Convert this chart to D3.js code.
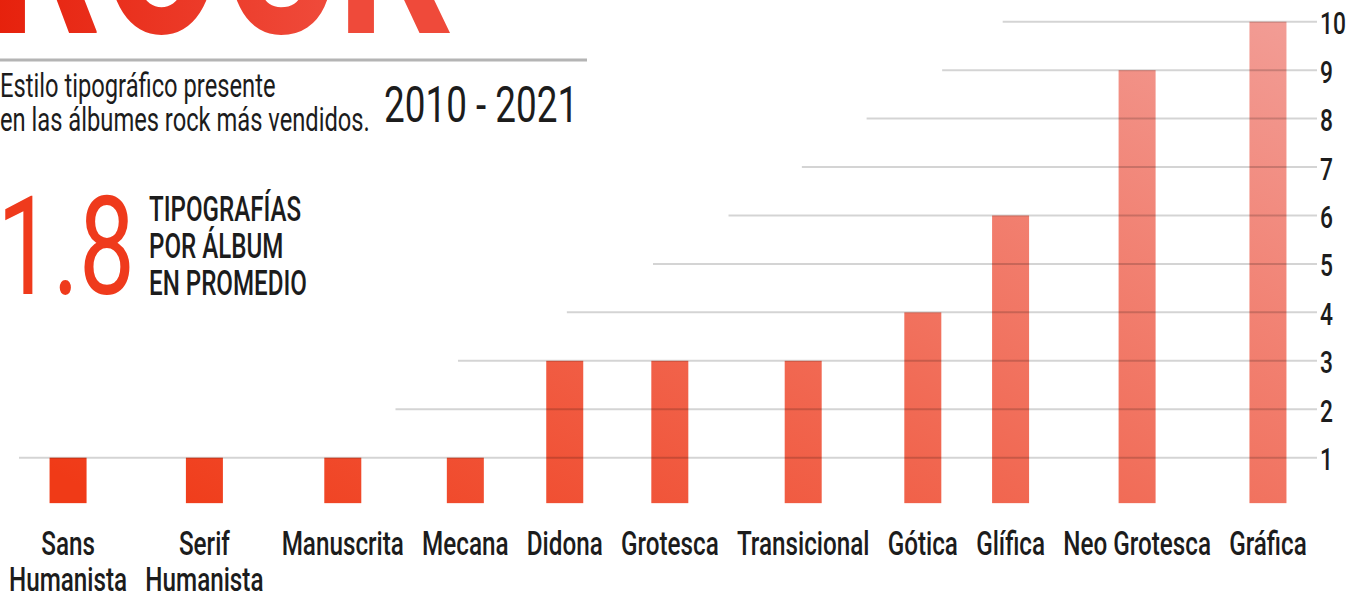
<!DOCTYPE html>
<html>
<head>
<meta charset="utf-8">
<script src="https://cdn.jsdelivr.net/npm/d3@7"></script>
<style>
  html, body { margin: 0; padding: 0; background: #fff; overflow: hidden; }
  svg { display: block; }
  text { font-family: Roboto, "Noto Sans", sans-serif; }
</style>
</head>
<body>
<svg id="chart" width="1364" height="596"></svg>
<script>
// ---- data ----
const categories = ["Sans Humanista", "Serif Humanista", "Manuscrita", "Mecana", "Didona",
  "Grotesca", "Transicional", "Gótica", "Glífica", "Neo Grotesca", "Gráfica"];
const tickLabels = [["Sans", "Humanista"], ["Serif", "Humanista"], ["Manuscrita"], ["Mecana"],
  ["Didona"], ["Grotesca"], ["Transicional"], ["Gótica"], ["Glífica"], ["Neo Grotesca"], ["Gráfica"]];
const counts = [1, 1, 1, 1, 3, 3, 3, 4, 6, 9, 10];
const yTicks = [1, 2, 3, 4, 5, 6, 7, 8, 9, 10];
const title = "ROCK";
const subtitleLines = ["Estilo tipográfico presente", "en las álbumes rock más vendidos."];
const period = "2010 - 2021";
const average = "1.8";
const averageCaption = ["TIPOGRAFÍAS", "POR ÁLBUM", "EN PROMEDIO"];

// ---- layout / style ----
const SQUEEZE = 0.735;          // horizontal squeeze giving a condensed face
const labelGap = 18.2;          // space between neighbouring category labels
const labelStart = 9;
const barWidth = 37;
const gridRight = 1317;
// where each gridline (1..10) begins, measured in category steps
const gridFrom = [-0.36, 2.43, 2.94, 4.02, 4.84, 5.44, 5.99, 6.53, 7.22, 7.91];
const ink = "#1c1c1c";

const svg = d3.select("#chart");
const defs = svg.append("defs");

const barGrad = defs.append("linearGradient").attr("id", "barFill")
  .attr("gradientUnits", "userSpaceOnUse")
  .attr("x1", 69).attr("y1", 480).attr("x2", 585).attr("y2", -406);
barGrad.append("stop").attr("offset", 0).attr("stop-color", "#f03a17");
barGrad.append("stop").attr("offset", 1).attr("stop-color", "#f29e97");

const titleGrad = defs.append("linearGradient").attr("id", "titleFill")
  .attr("gradientUnits", "userSpaceOnUse")
  .attr("x1", 0).attr("y1", 0).attr("x2", 460).attr("y2", 0);
titleGrad.append("stop").attr("offset", 0).attr("stop-color", "#e6200b");
titleGrad.append("stop").attr("offset", 1).attr("stop-color", "#ef4a3a");

// condensed text helper
function ctext(parent, str, x, y, size, o = {}) {
  return parent.append("text")
    .attr("transform", `translate(${x},${y}) scale(${o.sx || SQUEEZE},1)`)
    .attr("font-size", size)
    .attr("font-weight", o.weight || 500)
    .attr("fill", o.fill || ink)
    .attr("text-anchor", o.anchor || "start")
    .text(str);
}

// ---- heading block ----
ctext(svg, title, -12, 33, 240, { weight: 700, fill: "url(#titleFill)", sx: 0.733 });
svg.append("line").attr("x1", 0).attr("x2", 587).attr("y1", 60).attr("y2", 60)
  .attr("stroke", "#b4b4b4").attr("stroke-width", 3);
subtitleLines.forEach((s, i) => ctext(svg, s, 0, 97 + i * 34, 32.5, { sx: 0.73, weight: 400 }));
ctext(svg, period, 384, 122, 49.5, { sx: 0.745, weight: 400 });
ctext(svg, average, -3, 294, 138, { weight: 400, fill: "#ef3a1c", sx: 0.72 });
averageCaption.forEach((s, i) => ctext(svg, s, 149, 221 + i * 37, 34.5, { sx: 0.7 }));

// ---- x positions: labels flow left to right, each bar sits over its label ----
const labelG = svg.append("g");
const measure = lines => d3.max(lines, l => {
  const t = ctext(labelG, l, 0, 0, 33);
  const w = t.node().getComputedTextLength() * SQUEEZE;
  t.remove();
  return w;
});
let cursor = labelStart;
const centers = tickLabels.map(lines => {
  const w = measure(lines);
  const c = cursor + w / 2;
  cursor += w + labelGap;
  return c;
});
const x = d3.scaleOrdinal().domain(categories).range(centers);
const xStep = d3.scaleLinear().domain(d3.range(categories.length)).range(centers);

const y = d3.scaleLinear().domain([1, 10]).range([457.7, 21.7]);

// ---- bars ----
svg.append("g").selectAll("rect").data(categories).join("rect")
  .attr("x", d => x(d) - barWidth / 2)
  .attr("width", barWidth)
  .attr("y", (d, i) => y(counts[i]))
  .attr("height", (d, i) => y(0) - 3 - y(counts[i]))
  .attr("fill", "url(#barFill)");

// ---- stepped gridlines, laid over the bars ----
svg.append("g").selectAll("line").data(yTicks).join("line")
  .attr("x1", (d, i) => xStep(gridFrom[i]))
  .attr("x2", gridRight)
  .attr("y1", d => y(d)).attr("y2", d => y(d))
  .attr("stroke", "rgba(0,0,0,0.17)").attr("stroke-width", 2);

// ---- value labels on the right ----
yTicks.forEach(v => ctext(svg, String(v), 1320, y(v) + 12.5, 31));

// ---- category labels ----
tickLabels.forEach((lines, i) => {
  lines.forEach((l, j) => ctext(labelG, l, x(categories[i]), 555 + j * 36, 33, { anchor: "middle" }));
});
</script>
</body>
</html>
